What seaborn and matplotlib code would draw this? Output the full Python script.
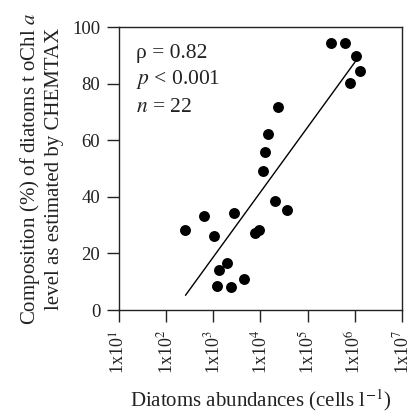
import numpy as np
import pandas as pd
import matplotlib
matplotlib.use("Agg")
import matplotlib.pyplot as plt
import seaborn as sns

# Data (log10 of diatom abundance, composition %)
log_abundance = [5.49, 5.80, 6.02, 6.12, 5.90, 4.38, 4.17, 4.10, 4.05, 4.30, 4.57,
                 3.44, 2.80, 2.41, 3.01, 3.88, 3.97, 3.30, 3.12, 3.65, 3.07, 3.37]
composition = [94.4, 94.2, 89.9, 84.3, 80.1, 71.6, 62.3, 55.7, 49.2, 38.6, 35.3,
               34.4, 33.1, 28.4, 26.0, 27.1, 28.4, 16.5, 14.0, 11.0, 8.6, 8.0]
fit_log_x = [2.41, 6.02]
fit_y = [5.2, 88.0]
x_tick_exponents = [1, 2, 3, 4, 5, 6, 7]
y_ticks = [0, 20, 40, 60, 80, 100]

df = pd.DataFrame({"abundance": np.power(10.0, log_abundance), "composition": composition})
fit = pd.DataFrame({"abundance": np.power(10.0, fit_log_x), "composition": fit_y})

sns.set_theme(style="ticks")
plt.rcParams["font.family"] = ["Liberation Serif", "DejaVu Serif"]
plt.rcParams["mathtext.fontset"] = "stix"

fig = plt.figure(figsize=(4.11, 4.16), dpi=100)
ax = fig.add_axes([0.2895, 0.2548, 0.6885, 0.6802])

sns.scatterplot(data=df, x="abundance", y="composition", ax=ax, color="black",
                s=62, edgecolor="black", linewidth=0, zorder=3)
sns.lineplot(data=fit, x="abundance", y="composition", ax=ax, color="black",
             linewidth=1.0, estimator=None, sort=False)

ax.set_xscale("log")
ax.set_xlim(10**1, 10**7)
ax.set_ylim(0, 100)
ax.set_xticks([10.0**e for e in x_tick_exponents])
ax.set_xticklabels([f"1x10$^{{{e}}}$" for e in x_tick_exponents], rotation=90,
                   fontsize=13, color="#222222")
ax.minorticks_off()
ax.set_yticks(y_ticks)
ax.set_yticklabels([str(v) for v in y_ticks], fontsize=13.5, color="#222222")

for sp in ax.spines.values():
    sp.set_visible(True)
    sp.set_color("#222222")
    sp.set_linewidth(1.0)

ax.tick_params(axis="both", direction="out", length=8.5, width=1.0, color="#222222")
ax.tick_params(axis="x", pad=6)
ax.tick_params(axis="y", pad=5)

ax.set_xlabel("Diatoms abundances (cells l$^{-1}$)", fontsize=15, color="#222222", labelpad=9)
ax.set_ylabel("Composition (%) of diatoms t oChl $a$\nlevel as estimated by CHEMTAX",
              fontsize=15, color="#222222", labelpad=6, linespacing=1.2)

ax.text(0.06, 0.908, "ρ = 0.82", transform=ax.transAxes, fontsize=15.5, color="#222222", va="center")
ax.text(0.06, 0.813, "$p$ < 0.001", transform=ax.transAxes, fontsize=15.5, color="#222222", va="center")
ax.text(0.06, 0.717, "$n$ = 22", transform=ax.transAxes, fontsize=15.5, color="#222222", va="center")

fig.savefig("out.png", dpi=100)
